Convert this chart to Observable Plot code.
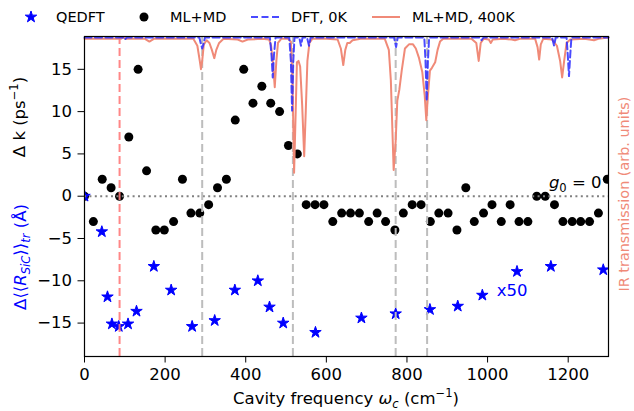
<!DOCTYPE html>
<html><head><meta charset="utf-8">
<script src="https://cdn.jsdelivr.net/npm/d3@7"></script>
<script src="https://cdn.jsdelivr.net/npm/@observablehq/plot@0.6"></script>
<style>
body{margin:0;background:#fff;}
#wrap{position:relative;width:634px;height:411px;font-family:"DejaVu Sans";}
#wrap svg{position:absolute;left:0;top:0;}
</style></head><body><div id="wrap"></div>
<script>
// ---- data ----
const mlmdFreq = [0,22,44,66,87,110,133,154,177,198,221,243,264,286,308,330,352,374,395,418,440,462,484,506,528,550,572,594,616,638,660,682,705,726,747,770,791,813,835,858,879,902,924,946,967,990,1011,1034,1056,1078,1100,1122,1143,1166,1187,1210,1231,1253,1275,1297];
const mlmdDk   = [0,-3,2,1,0,7,15,3,-4,-4,-3,2,-2,-2,-1,1,2,9,15,11,13,11,10,6,5,-1,-1,-1,-3,-2,-2,-2,-3,-2,-3,-4,-2,-1,-1,-3,-2,-2,-4,1,-3,-2,-1,-3,-1,-3,-3,0,0,-1,-3,-3,-3,-3,-2,2];
const qedftFreq = [0,43,57,68,85,108,129,172,215,267,323,373,430,459,493,573,687,772,857,926,987,1073,1157,1287];
const qedftDR   = [0,-4.2,-11.9,-15.1,-15.4,-15.1,-13.6,-8.3,-11.1,-15.4,-14.7,-11.1,-10.0,-13.1,-15.0,-16.1,-14.4,-13.9,-13.4,-13.0,-11.7,-8.9,-8.3,-8.7];
const ir400Freq = [0,60,80,90,96,102,130,150,161,172,230,270,280,286,289,292,296,303,310,316,322,327,334,345,380,392,405,440,458,463,468,472,476,480,488,505,512,516,520,524,527,531,535,540,545,549,553,558,565,600,628,636,642,647,652,658,665,685,745,755,760,767,772,776,781,787,795,805,815,822,830,838,844,848,852,857,862,870,876,882,890,960,972,978,983,990,1003,1008,1013,1040,1060,1068,1080,1118,1124,1128,1132,1138,1160,1172,1180,1185,1190,1196,1205,1240,1264,1275,1300];
const ir400T    = [0.99,0.99,0.99,0.99,1.0,0.99,0.99,0.99,0.97,0.99,0.99,0.99,0.94,0.83,0.77,0.83,0.95,0.98,0.96,0.91,0.85,0.91,0.96,0.99,0.985,0.97,0.985,0.99,0.985,0.94,0.80,0.64,0.83,0.96,0.99,0.99,0.97,0.69,0.02,0.47,0.82,0.83,0.79,0.51,0.14,0.47,0.83,0.96,0.99,0.99,0.985,0.92,0.80,0.91,0.96,0.96,0.98,0.99,0.99,0.91,0.69,0.04,0.25,0.54,0.62,0.76,0.92,0.95,0.95,0.92,0.85,0.75,0.58,0.40,0.58,0.76,0.78,0.82,0.91,0.97,0.99,0.99,0.96,0.83,0.96,0.99,0.985,0.96,0.985,0.99,0.985,0.98,0.99,0.99,0.93,0.84,0.95,0.99,0.985,0.94,0.83,0.71,0.83,0.96,0.985,0.99,0.98,0.99,1.0];
const ir0Freq = [0,95,100,105,285,289,292,295,299,460,464,467,470,474,508,512,515,518,521,533,537,541,552,557,561,768,773,777,843,846,849,852,855,980,985,990,1160,1165,1169,1196,1199,1202,1205,1208,1300];
const ir0T    = [1,1,0.985,1,1,0.95,0.92,0.95,1,1,0.87,0.71,0.87,1,1,0.83,0.47,0.83,1,1,0.94,1,1,0.94,1,1,0.93,1,1,0.83,0.54,0.83,1,1,0.98,1,1,0.94,1,1,0.87,0.72,0.87,1,1];
const redModes  = [87];
const greyModes = [292,517,772,850];
const xTicks = [0,200,400,600,800,1000,1200];
const yTicks = [-15,-10,-5,0,5,10,15];
const xDomain = [0,1300];
const yDomain = [-18.95,18.88];
const trDomain = [-1.312,1.007];
const legendItems = ["QEDFT","ML+MD","DFT, 0K","ML+MD, 400K"];
const noteScale = {x:1023, y:-11.15, text:"x50"};
const noteG = {x:1284, y:0.9};

// ---- tables ----
const mlmd = mlmdFreq.map((f,i)=>({f, v:mlmdDk[i]}));
const qedft = qedftFreq.map((f,i)=>({f, v:qedftDR[i]}));
const ir400 = ir400Freq.map((f,i)=>({f, t:ir400T[i]}));
const ir0 = ir0Freq.map((f,i)=>({f, t:ir0T[i]}));

const W=634, H=411, mL=84, mR=26, mT=36, mB=55;
const FS = 16.5;
const SALMON = "#f08a78";
const STAR_R = 3.6;
const minus = d => d < 0 ? "\u2212" + Math.abs(d) : String(d);

const main = Plot.plot({
  width:W, height:H, marginLeft:mL, marginRight:mR, marginTop:mT, marginBottom:mB,
  style:{fontFamily:"DejaVu Sans", fontSize:FS+"px", background:"none", color:"black", overflow:"visible"},
  x:{domain:xDomain, ticks:xTicks, tickSize:6.5, tickPadding:5, tickFormat:d=>String(d), label:null},
  y:{domain:yDomain, ticks:yTicks, tickSize:6.5, tickPadding:6, tickFormat:minus, label:null},
  marks:[
    Plot.dot(mlmd, {x:"f", y:"v", r:4.5, fill:"black", clip:true}),
    Plot.dot(qedft, {x:"f", y:"v", symbol:"star", r:STAR_R, fill:"blue", stroke:"blue", strokeWidth:1, clip:true}),
    Plot.ruleY([0], {stroke:"#808080", strokeWidth:2, strokeDasharray:"2,3.4"}),
    Plot.ruleX(redModes, {stroke:"#ff7a7a", strokeOpacity:0.9, strokeWidth:2, strokeDasharray:"8,4"}),
    Plot.ruleX(greyModes, {stroke:"#bdbdbd", strokeWidth:2, strokeDasharray:"8,4"}),
    Plot.text([noteScale], {x:"x", y:"y", text:"text", fill:"blue", textAnchor:"start", fontSize:FS})
  ]
});

const over = Plot.plot({
  width:W, height:H, marginLeft:mL, marginRight:mR, marginTop:mT, marginBottom:mB,
  style:{fontFamily:"DejaVu Sans", fontSize:FS+"px", background:"none", overflow:"visible"},
  x:{domain:xDomain, axis:null},
  y:{domain:trDomain, axis:null},
  marks:[
    Plot.line(ir400, {x:"f", y:"t", stroke:SALMON, strokeWidth:2}),
    Plot.line(ir0, {x:"f", y:"t", stroke:"#2a2aff", strokeOpacity:0.85, strokeWidth:2, strokeDasharray:"7,3.5"}),
    Plot.frame({stroke:"black", strokeWidth:1.2})
  ]
});

const wrap = document.getElementById("wrap");
wrap.appendChild(main);
wrap.appendChild(over);

function richText(parent, {x, y, rotate=0, anchor="middle", fill="black", size=FS}, parts) {
  const t = d3.select(parent).append("text")
    .attr("transform", `translate(${x},${y}) rotate(${rotate})`)
    .attr("text-anchor", anchor).attr("fill", fill)
    .attr("font-family", "DejaVu Sans").attr("font-size", size);
  let cur = 0;
  for (const p of parts) {
    const shift = p.sub ? size*0.22 : p.sup ? -size*0.4 : 0;
    const ts = t.append("tspan").text(p.t).attr("dy", shift - cur);
    cur = shift;
    if (p.sub || p.sup) ts.attr("font-size", size*0.7);
    if (p.it) ts.attr("font-style", "italic");
  }
  return t;
}

const sx = main.scale("x"), sy = main.scale("y");
// g0 = 0 annotation
richText(over, {x:sx.apply(noteG.x), y:sy.apply(noteG.y), anchor:"end"},
  [{t:"g", it:true},{t:"0", sub:true},{t:" = 0"}]);

// axis titles
richText(over, {x:(mL+W-mR)/2, y:404}, [{t:"Cavity frequency "},{t:"ω", it:true},{t:"c", it:true, sub:true},{t:" (cm"},{t:"\u22121", sup:true},{t:")"}]);
richText(over, {x:25, y:117, rotate:-90}, [{t:"Δ k (ps"},{t:"\u22121", sup:true},{t:")"}]);
richText(over, {x:26, y:257, rotate:-90, fill:"blue"}, [{t:"Δ⟨⟨"},{t:"R", it:true},{t:"SiC", it:true, sub:true},{t:"⟩⟩"},{t:"tr", it:true, sub:true},{t:" (Å)"}]);
richText(over, {x:629, y:194, rotate:-90, fill:SALMON, size:14.4}, [{t:"IR transmission (arb. units)"}]);

// legend
const lg = d3.select(over).append("g").attr("font-family","DejaVu Sans").attr("font-size",14.5).attr("text-anchor","start").attr("fill","black");
const ly = 17;
lg.append("path").attr("d", d3.symbol(d3.symbolStar, Math.PI*STAR_R*STAR_R)()).attr("transform",`translate(31,${ly})`).attr("fill","blue").attr("stroke","blue");
lg.append("text").attr("x",56).attr("y",ly).attr("dy","0.36em").text(legendItems[0]);
lg.append("circle").attr("cx",144).attr("cy",ly).attr("r",4.5).attr("fill","black");
lg.append("text").attr("x",170).attr("y",ly).attr("dy","0.36em").text(legendItems[1]);
lg.append("line").attr("x1",251).attr("x2",280).attr("y1",ly).attr("y2",ly).attr("stroke","#2a2aff").attr("stroke-opacity",0.85).attr("stroke-width",2).attr("stroke-dasharray","7,3.5");
lg.append("text").attr("x",291).attr("y",ly).attr("dy","0.36em").text(legendItems[2]);
lg.append("line").attr("x1",372).attr("x2",400).attr("y1",ly).attr("y2",ly).attr("stroke",SALMON).attr("stroke-width",2);
lg.append("text").attr("x",412).attr("y",ly).attr("dy","0.36em").text(legendItems[3]);
</script>
</body></html>
